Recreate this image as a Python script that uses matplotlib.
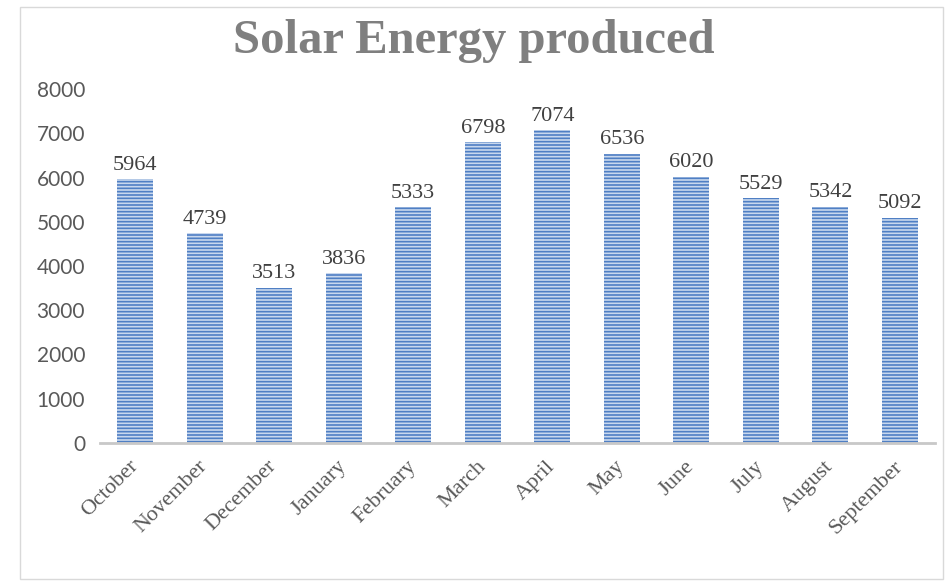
import matplotlib.pyplot as plt
import numpy as np

months = ['October', 'November', 'December', 'January', 'February', 'March',
          'April', 'May', 'June', 'July', 'August', 'September']
energy = [5964, 4739, 3513, 3836, 5333, 6798, 7074, 6536, 6020, 5529, 5342, 5092]
y_ticks = [0, 1000, 2000, 3000, 4000, 5000, 6000, 7000, 8000]

plt.rcParams['font.family'] = ['Liberation Serif', 'DejaVu Serif']
plt.rcParams['hatch.linewidth'] = 1.2
plt.rcParams['hatch.color'] = '#4f7fc4'

fig = plt.figure(figsize=(9.47, 5.82), dpi=100)
ax = fig.add_axes([0.106, 0.239, 0.881, 0.608])

x = np.arange(len(months))
bars = ax.bar(x, energy, width=0.52, color='#c9d8ee', edgecolor='#4f7fc4',
              hatch='-----', linewidth=0)

for xi, v in zip(x, energy):
    ax.text(xi, v + 100, str(v), ha='center', va='bottom', fontsize=16, color='#404040')

ax.set_xlim(-0.5, len(months) - 0.5)
ax.set_ylim(0, 8000)
ax.set_yticks(y_ticks)
ax.set_yticklabels([str(t) for t in y_ticks], fontsize=15, color='#595959', family='Lato')
ax.tick_params(axis='y', length=0, pad=11)
ax.set_xticks(x)
ax.set_xticklabels(months, rotation=45, ha='right', va='center', rotation_mode='anchor',
                   fontsize=16, color='#595959')
ax.tick_params(axis='x', length=0, pad=15)
for s in ['top', 'right', 'left']:
    ax.spines[s].set_visible(False)
ax.spines['bottom'].set_color('#c8c8c8')
ax.spines['bottom'].set_linewidth(2)

fig.text(0.5, 0.93, 'Solar Energy produced', ha='center', va='center',
         fontsize=35, fontweight='bold', color='#7f7f7f')

# thin border around the chart area
fig.patches.append(plt.Rectangle((0.021, 0.005), 0.975, 0.983, transform=fig.transFigure,
                                 fill=False, edgecolor='#d9d9d9', linewidth=1))

fig.savefig('out.png', dpi=100)
